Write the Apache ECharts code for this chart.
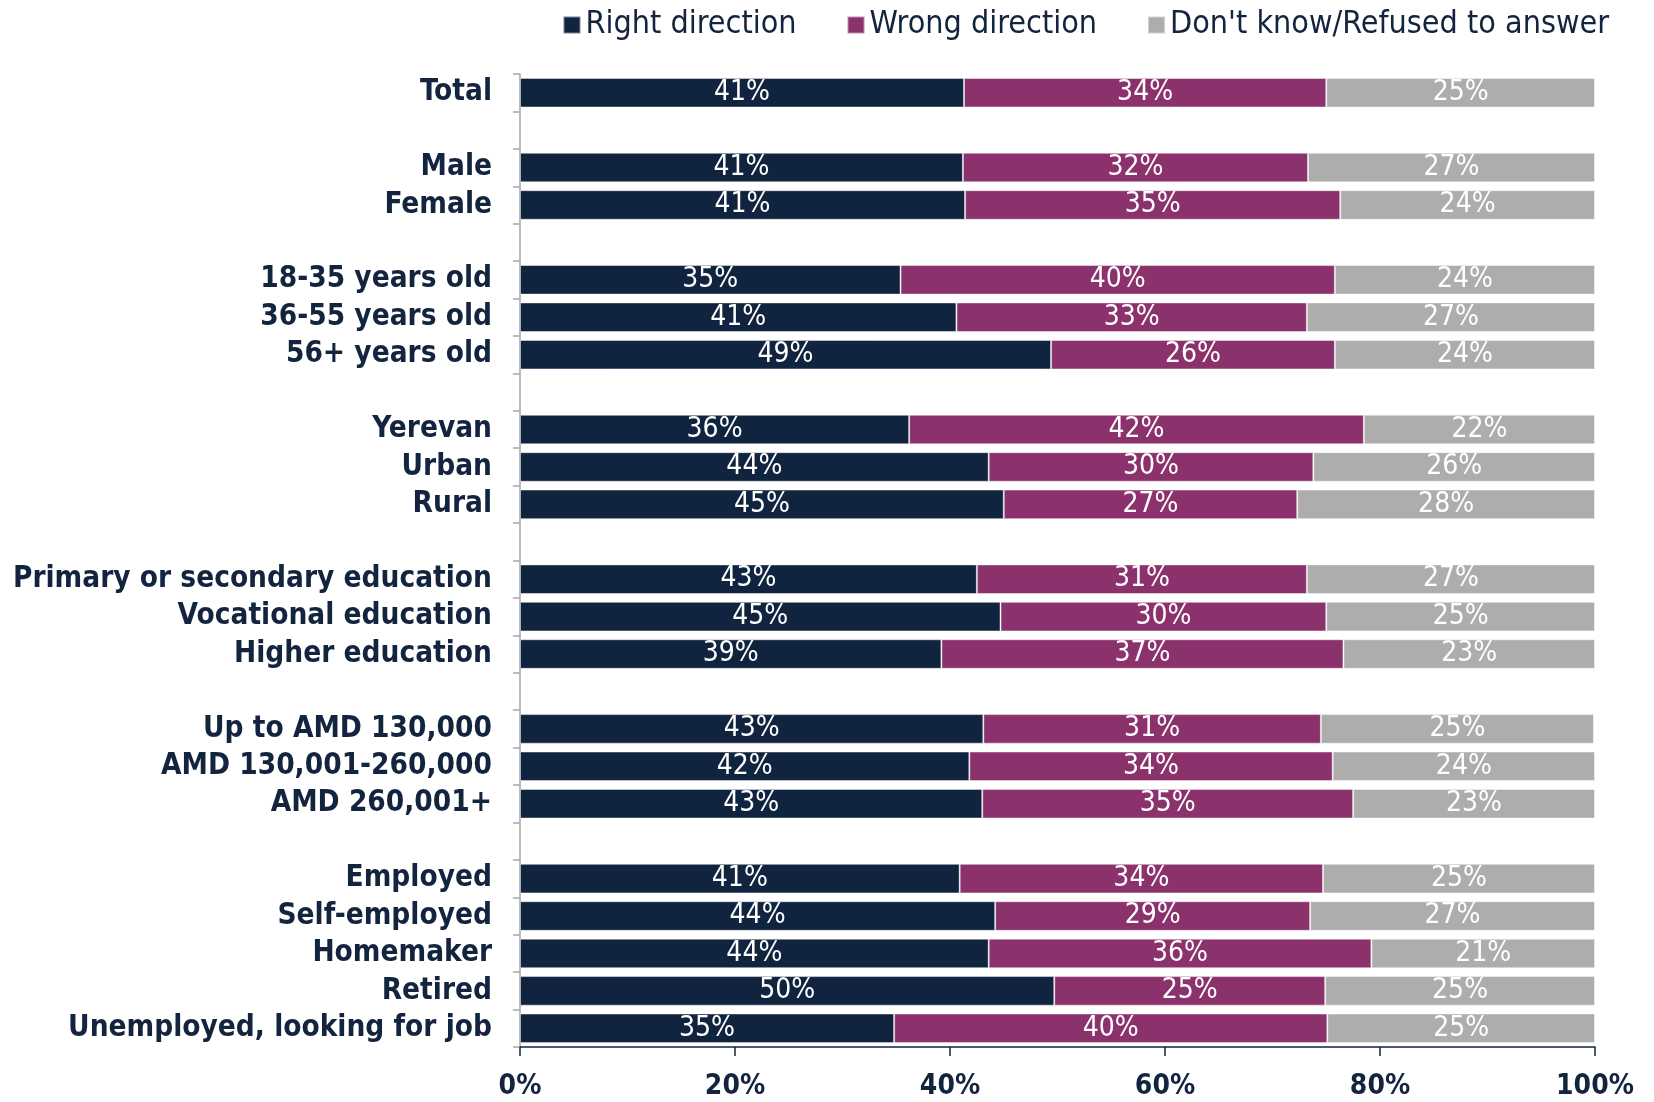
<!DOCTYPE html>
<html>
<head>
<meta charset="utf-8">
<script src="https://cdn.jsdelivr.net/npm/echarts@6/dist/echarts.min.js"></script>
<style>
html,body{margin:0;padding:0;background:#fff;}
#chart{width:1654px;height:1102px;}
</style>
</head>
<body>
<div id="chart"></div>
<script>
// Groups of categories (top to bottom); a blank row separates groups
const groups = [
  ["Total"],
  ["Male", "Female"],
  ["18-35 years old", "36-55 years old", "56+ years old"],
  ["Yerevan", "Urban", "Rural"],
  ["Primary or secondary education", "Vocational education", "Higher education"],
  ["Up to AMD 130,000", "AMD 130,001-260,000", "AMD 260,001+"],
  ["Employed", "Self-employed", "Homemaker", "Retired", "Unemployed, looking for job"]
];
const seriesNames = ["Right direction", "Wrong direction", "Don't know/Refused to answer"];
// values in the same order as the flattened groups
const rightDirection = [41.3, 41.2, 41.4, 35.4, 40.6, 49.4, 36.2, 43.6, 45.0, 42.5, 44.7, 39.2, 43.1, 41.8, 43.0, 40.9, 44.2, 43.6, 49.7, 34.8];
const wrongDirection = [33.7, 32.1, 34.9, 40.4, 32.6, 26.4, 42.3, 30.2, 27.3, 30.7, 30.3, 37.4, 31.4, 33.8, 34.5, 33.8, 29.3, 35.6, 25.2, 40.3];
const dontKnow      = [25.0, 26.7, 23.7, 24.2, 26.8, 24.2, 21.5, 26.2, 27.7, 26.8, 25.0, 23.4, 25.4, 24.4, 22.5, 25.3, 26.5, 20.8, 25.1, 24.9];
const xTicks = [0, 20, 40, 60, 80, 100];

const colors = ["#10233f", "#8b326d", "#adadae"];

// build category list with gap rows
const categories = [];
const idxMap = []; // index into value arrays or -1 for gap
let k = 0, gapCount = 0;
groups.forEach((g, gi) => {
  if (gi > 0) { gapCount++; categories.push(" ".repeat(gapCount)); idxMap.push(-1); }
  g.forEach(c => { categories.push(c); idxMap.push(k++); });
});
const build = arr => idxMap.map(i => i < 0 ? '-' : arr[i]);

const chart = echarts.init(document.getElementById('chart'), null, {renderer: 'canvas'});
const valueFont = "'Liberation Sans Narrow', 'DejaVu Sans Condensed', sans-serif";
const labelFont = "'DejaVu Sans Condensed', 'DejaVu Sans', sans-serif";

const mk = (name, arr, ci) => ({
  name: name,
  type: 'bar',
  stack: 'all',
  barCategoryGap: '21%',
  data: build(arr),
  itemStyle: {color: colors[ci], borderColor: 'rgba(255,255,255,0.45)', borderWidth: 1},
  label: {
    show: true,
    position: 'inside',
    color: '#ffffff',
    fontFamily: valueFont,
    fontSize: 28,
    formatter: p => Math.round(p.value) + '%'
  },
  emphasis: {disabled: true}
});

chart.setOption({
  animation: false,
  backgroundColor: '#ffffff',
  color: colors,
  legend: {
    data: seriesNames,
    right: 40,
    top: 4,
    itemWidth: 17,
    itemHeight: 17,
    itemGap: 50,
    icon: 'rect',
    textStyle: {color: '#13243f', fontFamily: valueFont, fontSize: 32, padding: [0, 0, 0, 0]}
  },
  grid: {left: 520, right: 59, top: 74, bottom: 55, containLabel: false},
  xAxis: {
    type: 'value',
    min: xTicks[0],
    max: xTicks[xTicks.length - 1],
    interval: xTicks[1] - xTicks[0],
    axisLine: {show: true, lineStyle: {color: '#13243f', width: 1.5}},
    axisTick: {show: true, length: 9, lineStyle: {color: '#13243f', width: 1.5}},
    splitLine: {show: false},
    axisLabel: {
      formatter: '{value}%',
      color: '#13243f',
      fontFamily: labelFont,
      fontWeight: 'bold',
      fontSize: 28,
      margin: 26
    }
  },
  yAxis: {
    type: 'category',
    inverse: true,
    data: categories,
    axisLine: {show: true, lineStyle: {color: '#a6a6a6', width: 1.5}},
    axisTick: {show: true, length: 7, lineStyle: {color: '#a6a6a6', width: 1.5}},
    axisLabel: {
      color: '#13243f',
      fontFamily: labelFont,
      fontWeight: 'bold',
      fontSize: 29.5,
      margin: 28,
      interval: 0,
      padding: [4, 0, 0, 0]
    }
  },
  series: [
    mk(seriesNames[0], rightDirection, 0),
    mk(seriesNames[1], wrongDirection, 1),
    mk(seriesNames[2], dontKnow, 2)
  ]
});
</script>
</body>
</html>
